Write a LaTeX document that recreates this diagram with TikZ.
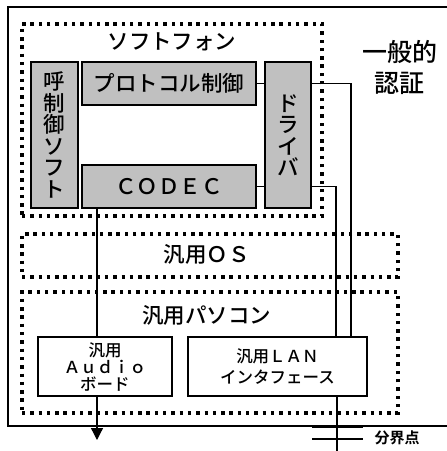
\documentclass[tikz,border=0pt]{standalone}
\usepackage{fontspec}
\setmainfont{Noto Sans CJK JP}[UprightFont={* Medium},BoldFont={* Bold}]
\usetikzlibrary{arrows.meta,calc}
\definecolor{boxgray}{RGB}{192,192,192}
\pgfdeclarelayer{bg}
\pgfsetlayers{bg,main}
\begin{document}
\begin{tikzpicture}[x=1pt,y=-1pt,
  graybox/.style={draw,line width=1.3pt,fill=boxgray,inner sep=0pt,align=center},
  whitebox/.style={draw,line width=1.3pt,fill=white,inner sep=0pt,align=center},
  dotbox/.style={draw,line width=3.5pt,dash pattern=on 3.4pt off 4.9pt,inner sep=0pt},
  conn/.style={line width=1.3pt},
  bigtxt/.style={font=\fontsize{21.5}{21.5}\selectfont},
  smalltxt/.style={font=\fontsize{16.5}{17}\selectfont},
  lbl/.style={inner sep=0pt,align=center}]
\useasboundingbox (0,0) rectangle (447,451);
% outer frame
\draw[line width=1.5pt] (447,7) -- (8,7) -- (8,426) -- (447,426);
% dotted containers
\node[dotbox,minimum width=300pt,minimum height=192pt] (soft) at (172,120) {};
\node[dotbox,minimum width=376pt,minimum height=43pt] (os) at (210,255.5) {};
\node[dotbox,minimum width=376pt,minimum height=121pt] (pc) at (210,352.5) {};
\node[lbl,bigtxt] (softlbl) at (172,42) {ソフトフォン};
\node[lbl,bigtxt] (oslbl) at (207,254) {汎用ＯＳ};
\node[lbl,bigtxt] (pclbl) at (207,315) {汎用パソコン};
% boxes
\node[graybox,bigtxt,minimum width=47pt,minimum height=146pt] (yobi) at (54.5,135) {呼\\制\\御\\ソ\\フ\\ト};
\node[graybox,bigtxt,minimum width=174pt,minimum height=43pt] (proto) at (169,83.5) {プロトコル制御};
\node[graybox,bigtxt,minimum width=174pt,minimum height=43pt] (codec) at (169,186.5) {ＣＯＤＥＣ};
\node[graybox,bigtxt,minimum width=46pt,minimum height=146pt] (driver) at (288,135) {ド\\ラ\\イ\\バ};
\node[whitebox,smalltxt,minimum width=134pt,minimum height=59pt] (audio) at (105,366.5) {汎用\\Ａｕｄｉｏ\\ボード};
\node[whitebox,font=\fontsize{16.5}{21}\selectfont,minimum width=179pt,minimum height=59pt] (lan) at (277.5,366.5) {汎用ＬＡＮ\\インタフェース};
% side labels
\node[lbl,font=\fontsize{25}{31}\selectfont] (auth) at (400,67.5) {一般的\\認証};
\node[lbl,font=\bfseries\fontsize{15}{15}\selectfont] (demlbl) at (397,438) {分界点};
% connectors
\coordinate (xa) at (351,0);
\coordinate (xb) at (336,0);
\coordinate (xc) at (97,0);
\coordinate (arrowend) at (97,440);
\coordinate (lanbot) at (337,451);
\coordinate (d1a) at (312,427);
\coordinate (d1b) at (363,427);
\coordinate (d2a) at (312,439);
\coordinate (d2b) at (363,439);
\begin{pgfonlayer}{bg}
\draw[conn] (proto.east) -- (proto.east -| driver.west);
\draw[conn] (codec.east) -- (codec.east -| driver.west);
\draw[conn] (driver.east |- proto.east) -| (lan.north -| xa);
\draw[conn] (driver.east |- codec.east) -| (lan.north -| xb);
\draw[conn] (codec.south -| xc) -- (audio.north -| xc);
\end{pgfonlayer}
\draw[conn,-{Triangle[width=12pt,length=12pt]}] (audio.south -| xc) -- (arrowend);
\draw[conn] (lan.south -| lanbot) -- (lanbot);
\draw[conn] (d1a) -- (d1b);
\draw[conn] (d2a) -- (d2b);
\end{tikzpicture}
\end{document}
